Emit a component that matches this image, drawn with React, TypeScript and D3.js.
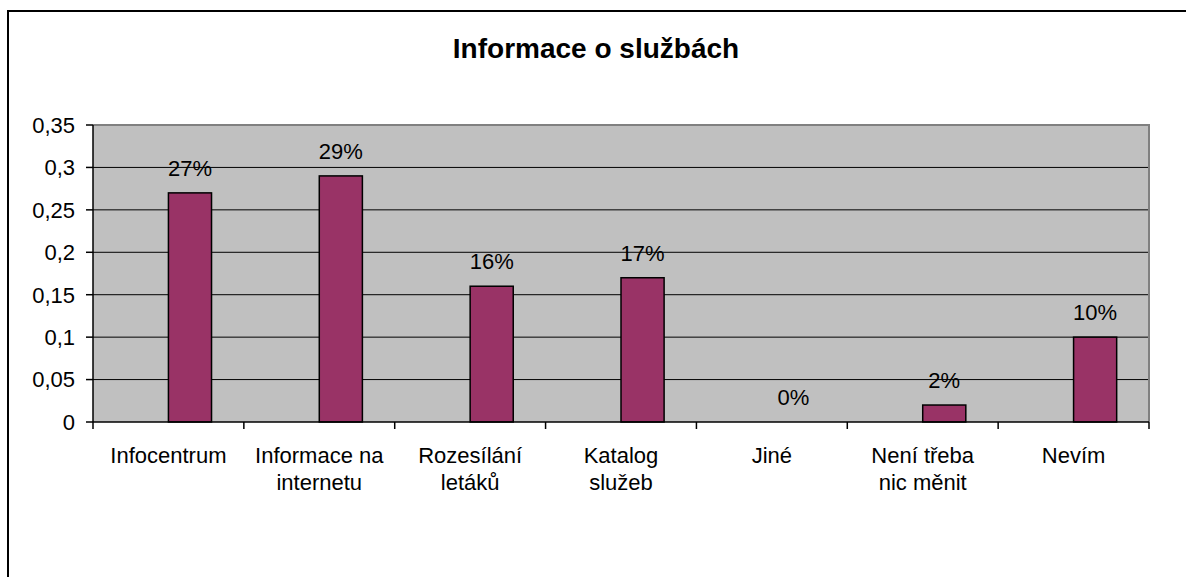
import React from 'react';
import * as d3 from 'd3';

const categories = [
  ['Infocentrum'],
  ['Informace na', 'internetu'],
  ['Rozesílání', 'letáků'],
  ['Katalog', 'služeb'],
  ['Jiné'],
  ['Není třeba', 'nic měnit'],
  ['Nevím'],
];
const values = [0.27, 0.29, 0.16, 0.17, 0, 0.02, 0.1];
const yTicks = [0, 0.05, 0.1, 0.15, 0.2, 0.25, 0.3, 0.35];
const title = 'Informace o službách';

const W = 1186;
const H = 577;
const plot = { left: 93, right: 1149, top: 125, bottom: 422 };
const font = '"Liberation Sans", Arial, sans-serif';

const App: React.FC = () => {
  const x = d3.scaleBand<number>()
    .domain(d3.range(categories.length))
    .range([plot.left, plot.right]);
  const y = d3.scaleLinear().domain([0, 0.35]).range([plot.bottom, plot.top]);
  // two series per slot in the original (the other empty), gap width 150%
  const barW = x.bandwidth() / 3.5;
  const fmt = (v: number) => String(v).replace('.', ',');

  return (
    <svg width={W} height={H} style={{ position: 'absolute', left: 0, top: 0, display: 'block' }}>
      <rect x={0} y={0} width={W} height={H} fill="#fff" />
      <rect x={8} y={11} width={W + 20} height={H + 20} fill="none" stroke="#000" strokeWidth={2} />
      <text x={596} y={58} textAnchor="middle" fontFamily={font} fontWeight="bold" fontSize={28}>
        {title}
      </text>

      <rect x={plot.left} y={plot.top} width={plot.right - plot.left} height={plot.bottom - plot.top}
        fill="#c0c0c0" />
      {yTicks.slice(1).map(t => (
        <line key={t} x1={plot.left} x2={plot.right} y1={y(t)} y2={y(t)}
          stroke={t === 0.35 ? '#808080' : '#000'} strokeWidth={t === 0.35 ? 2 : 1} />
      ))}
      <line x1={plot.right} x2={plot.right} y1={plot.top - 1} y2={plot.bottom} stroke="#808080" strokeWidth={2} />

      {values.map((v, i) => {
        const x0 = (x(i) as number) + x.bandwidth() / 2;
        return (
          <g key={i}>
            {v > 0 && (
              <rect x={x0} y={y(v)} width={barW} height={plot.bottom - y(v)}
                fill="#993366" stroke="#000" strokeWidth={1.5} />
            )}
            <text x={x0 + barW / 2} y={y(v) - 17} textAnchor="middle" fontFamily={font} fontSize={22}>
              {Math.round(v * 100)}%
            </text>
          </g>
        );
      })}

      <line x1={plot.left} x2={plot.left} y1={plot.top} y2={plot.bottom} stroke="#000" strokeWidth={1.5} />
      <line x1={plot.left} x2={plot.right} y1={plot.bottom} y2={plot.bottom} stroke="#000" strokeWidth={1.5} />
      {yTicks.map(t => (
        <g key={t}>
          <line x1={plot.left - 7} x2={plot.left} y1={y(t)} y2={y(t)} stroke="#000" strokeWidth={1.5} />
          <text x={75} y={y(t)} dy="0.36em" textAnchor="end" fontFamily={font} fontSize={22}>
            {fmt(t)}
          </text>
        </g>
      ))}
      {d3.range(categories.length + 1).map(i => {
        const xx = plot.left + i * x.bandwidth();
        return <line key={i} x1={xx} x2={xx} y1={plot.bottom} y2={plot.bottom + 7} stroke="#000" strokeWidth={1.5} />;
      })}
      {categories.map((lines, i) => (
        <text key={i} x={(x(i) as number) + x.bandwidth() / 2} y={463} textAnchor="middle"
          fontFamily={font} fontSize={22}>
          {lines.map((l, j) => (
            <tspan key={j} x={(x(i) as number) + x.bandwidth() / 2} dy={j === 0 ? 0 : 27}>{l}</tspan>
          ))}
        </text>
      ))}
    </svg>
  );
};

export default App;
